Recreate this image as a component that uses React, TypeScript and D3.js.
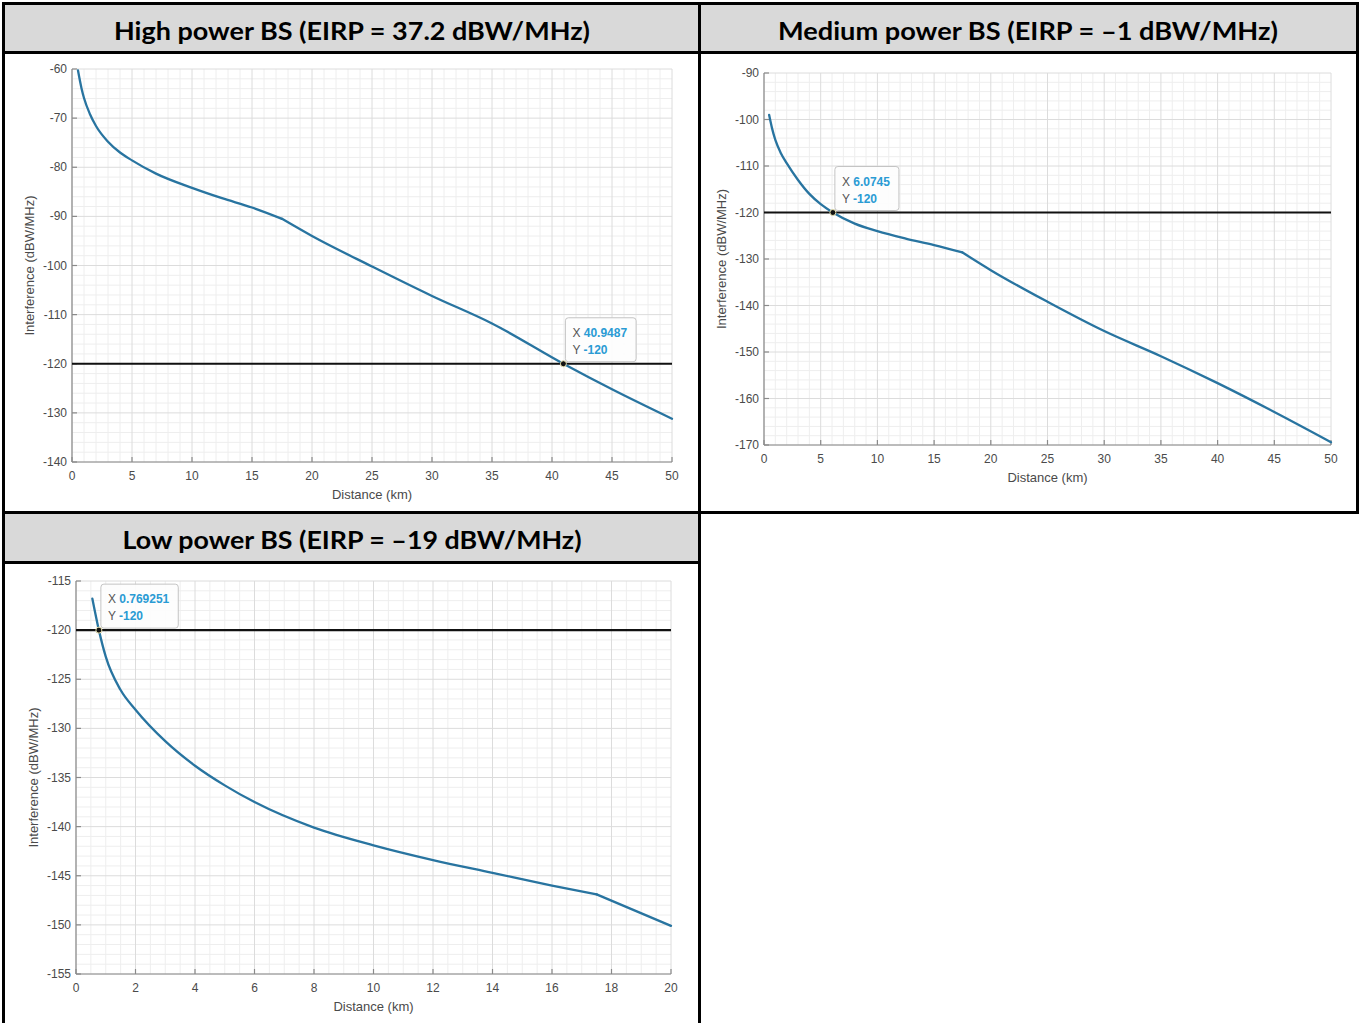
import React from 'react';
import * as d3 from 'd3';

// ---------- data ----------
const titles = [
  'High power BS (EIRP = 37.2 dBW/MHz)',
  'Medium power BS (EIRP = –1 dBW/MHz)',
  'Low power BS (EIRP = –19 dBW/MHz)',
];
const xAxisLabel = 'Distance (km)';
const yAxisLabel = 'Interference (dBW/MHz)';
const thresholdLevel = -120;
const tipXValues = [40.9487, 6.0745, 0.769251];
// distance where the propagation model changes (visible kink in every curve)
const breakDistance = 17.5;

const highDist = [0.5, 0.8, 1, 1.5, 2, 3, 4, 5, 7, 10, 12.5, 15, 17.5, 20, 25, 30, 35, 40.9487, 45, 50];
const highInterf = [-60.3, -64.0, -65.9, -69.2, -71.6, -74.8, -77.0, -78.6, -81.3, -84.2, -86.3, -88.2, -90.5, -94.0, -100.2, -106.2, -111.8, -120, -125.2, -131.2];

const medDist = [0.45, 0.7, 1, 1.5, 2, 3, 4, 5, 6.0745, 8, 10, 12.5, 15, 17.5, 20, 25, 30, 35, 40, 45, 50];
const medInterf = [-99.0, -101.8, -104.4, -107.3, -109.4, -113.0, -116.0, -118.2, -120, -122.4, -124.0, -125.6, -127.0, -128.6, -132.4, -139.2, -145.5, -150.9, -156.7, -162.9, -169.4];

const lowDist = [0.55, 0.769251, 1, 1.5, 2, 3, 4, 5, 6, 8, 10, 12, 14, 16, 17.5, 20];
const lowInterf = [-116.8, -120, -122.7, -126.1, -128.1, -131.3, -133.8, -135.8, -137.5, -140.1, -141.9, -143.4, -144.7, -146.0, -146.9, -150.1];

const highXTicks = [0, 5, 10, 15, 20, 25, 30, 35, 40, 45, 50];
const highYTicks = [-140, -130, -120, -110, -100, -90, -80, -70, -60];
const medXTicks = [0, 5, 10, 15, 20, 25, 30, 35, 40, 45, 50];
const medYTicks = [-170, -160, -150, -140, -130, -120, -110, -100, -90];
const lowXTicks = [0, 2, 4, 6, 8, 10, 12, 14, 16, 18, 20];
const lowYTicks = [-155, -150, -145, -140, -135, -130, -125, -120, -115];

// ---------- styling ----------
const TICK_FONT = '"Liberation Sans", Arial, Helvetica, sans-serif';
const LINE_COLOR = '#2874a0';
const TICK_COLOR = '#4a4a4a';
const AXIS_COLOR = '#8a8a8a';
const MAJOR_GRID = '#dcdcdc';
const MINOR_GRID = '#eeeeee';
const TIP_BLUE = '#2a9bd4';

function minorValues(ticks: number[], subs: number) {
  const out: number[] = [];
  for (let i = 0; i < ticks.length - 1; i++) {
    const a = ticks[i], b = ticks[i + 1];
    for (let k = 1; k < subs; k++) out.push(a + ((b - a) * k) / subs);
  }
  return out;
}

type PanelProps = {
  left: number; right: number; top: number; bottom: number;
  xTicks: number[]; yTicks: number[]; xSubs: number; ySubs: number;
  xs: number[]; ys: number[]; tipX: number;
};

function Panel(p: PanelProps) {
  const xDom: [number, number] = [p.xTicks[0], p.xTicks[p.xTicks.length - 1]];
  const yDom: [number, number] = [p.yTicks[0], p.yTicks[p.yTicks.length - 1]];
  const x = d3.scaleLinear().domain(xDom).range([p.left, p.right]);
  const y = d3.scaleLinear().domain(yDom).range([p.bottom, p.top]);
  const pts = p.xs.map((v, i) => [v, p.ys[i]] as [number, number]);
  const seg1 = pts.filter(d => d[0] <= breakDistance);
  const seg2 = pts.filter(d => d[0] >= breakDistance);
  const line = d3.line<[number, number]>().x(d => x(d[0])).y(d => y(d[1])).curve(d3.curveMonotoneX);
  const xMinor = minorValues(p.xTicks, p.xSubs);
  const yMinor = minorValues(p.yTicks, p.ySubs);
  const tx = x(p.tipX);
  const ty = y(thresholdLevel);
  const valStr = String(p.tipX);
  const digits = valStr.replace(/[^0-9]/g, '').length;
  const dots = valStr.length - digits;
  const boxW = 11.3 + digits * 6.67 + dots * 3.4 + 16;
  const boxH = 44;
  const bx = tx + 2;
  const by = ty - 2 - boxH;
  const midX = (p.left + p.right) / 2;
  const midY = (p.top + p.bottom) / 2;
  return (
    <g>
      <rect x={p.left} y={p.top} width={p.right - p.left} height={p.bottom - p.top} fill="#fff" />
      {xMinor.map((v, i) => (
        <line key={'xm' + i} x1={x(v)} x2={x(v)} y1={p.top} y2={p.bottom} stroke={MINOR_GRID} strokeWidth={1} />
      ))}
      {yMinor.map((v, i) => (
        <line key={'ym' + i} x1={p.left} x2={p.right} y1={y(v)} y2={y(v)} stroke={MINOR_GRID} strokeWidth={1} />
      ))}
      {p.xTicks.map((v, i) => (
        <line key={'xg' + i} x1={x(v)} x2={x(v)} y1={p.top} y2={p.bottom} stroke={MAJOR_GRID} strokeWidth={1} />
      ))}
      {p.yTicks.map((v, i) => (
        <line key={'yg' + i} x1={p.left} x2={p.right} y1={y(v)} y2={y(v)} stroke={MAJOR_GRID} strokeWidth={1} />
      ))}
      {/* axes */}
      <line x1={p.left} x2={p.left} y1={p.top} y2={p.bottom} stroke={AXIS_COLOR} strokeWidth={1.2} />
      <line x1={p.left} x2={p.right} y1={p.bottom} y2={p.bottom} stroke={AXIS_COLOR} strokeWidth={1.2} />
      {p.xTicks.map((v, i) => (
        <g key={'xt' + i}>
          <line x1={x(v)} x2={x(v)} y1={p.bottom} y2={p.bottom - 5} stroke={AXIS_COLOR} strokeWidth={1.2} />
          <text x={x(v)} y={p.bottom + 18} textAnchor="middle" fontFamily={TICK_FONT} fontSize={12} fill={TICK_COLOR}>{v}</text>
        </g>
      ))}
      {p.yTicks.map((v, i) => (
        <g key={'yt' + i}>
          <line x1={p.left} x2={p.left + 5} y1={y(v)} y2={y(v)} stroke={AXIS_COLOR} strokeWidth={1.2} />
          <text x={p.left - 5} y={y(v) + 4} textAnchor="end" fontFamily={TICK_FONT} fontSize={12} fill={TICK_COLOR}>{v}</text>
        </g>
      ))}
      <text x={midX} y={p.bottom + 37} textAnchor="middle" fontFamily={TICK_FONT} fontSize={13} fill={TICK_COLOR}>{xAxisLabel}</text>
      <text transform={`translate(${p.left - 38},${midY}) rotate(-90)`} textAnchor="middle" fontFamily={TICK_FONT} fontSize={13} fill={TICK_COLOR}>{yAxisLabel}</text>
      {/* threshold */}
      <line x1={x(xDom[0])} x2={x(xDom[1])} y1={ty} y2={ty} stroke="#111" strokeWidth={2.2} />
      {/* curve */}
      <path d={line(seg1) || ''} fill="none" stroke={LINE_COLOR} strokeWidth={2.3} strokeLinejoin="round" strokeLinecap="round" />
      <path d={line(seg2) || ''} fill="none" stroke={LINE_COLOR} strokeWidth={2.3} strokeLinejoin="round" strokeLinecap="round" />
      {/* datatip */}
      <circle cx={tx} cy={ty} r={3} fill="#111" stroke="#e8e2b0" strokeWidth={1} />
      <rect x={bx} y={by} width={boxW} height={boxH} rx={3} fill="#fdfdfd" fillOpacity={0.92} stroke="#c4c4c4" strokeWidth={1} />
      <text x={bx + 7} y={by + 19} fontFamily={TICK_FONT} fontSize={12} fill="#555">
        X <tspan fill={TIP_BLUE} fontWeight="bold">{valStr}</tspan>
      </text>
      <text x={bx + 7} y={by + 36} fontFamily={TICK_FONT} fontSize={12} fill="#555">
        Y <tspan fill={TIP_BLUE} fontWeight="bold">{thresholdLevel}</tspan>
      </text>
    </g>
  );
}

const HEADER_FONT = 'Lato, "DejaVu Sans", sans-serif';

export default function App() {
  const W = 1363, H = 1023;
  return (
    <svg width={W} height={H} style={{ position: 'absolute', left: 0, top: 0, background: '#fff' }}>
      <rect x={0} y={0} width={W} height={H} fill="#fff" />
      {/* header bands */}
      <rect x={4} y={4} width={1353} height={48} fill="#d9d9d9" />
      <rect x={4} y={513} width={695} height={49} fill="#d9d9d9" />
      <text x={352} y={40} textAnchor="middle" fontFamily={HEADER_FONT} fontWeight="bold" fontSize={25} textLength={476} lengthAdjust="spacingAndGlyphs" fill="#000">{titles[0]}</text>
      <text x={1028} y={40} textAnchor="middle" fontFamily={HEADER_FONT} fontWeight="bold" fontSize={25} textLength={500} lengthAdjust="spacingAndGlyphs" fill="#000">{titles[1]}</text>
      <text x={352} y={549} textAnchor="middle" fontFamily={HEADER_FONT} fontWeight="bold" fontSize={25} textLength={459} lengthAdjust="spacingAndGlyphs" fill="#000">{titles[2]}</text>

      <Panel left={72} right={672} top={69} bottom={462} xTicks={highXTicks} yTicks={highYTicks} xSubs={5} ySubs={5} xs={highDist} ys={highInterf} tipX={tipXValues[0]} />
      <Panel left={764} right={1331} top={73} bottom={445} xTicks={medXTicks} yTicks={medYTicks} xSubs={5} ySubs={5} xs={medDist} ys={medInterf} tipX={tipXValues[1]} />
      <Panel left={76} right={671} top={581} bottom={974} xTicks={lowXTicks} yTicks={lowYTicks} xSubs={4} ySubs={5} xs={lowDist} ys={lowInterf} tipX={tipXValues[2]} />

      {/* table borders */}
      <g stroke="#000" strokeWidth={3}>
        <line x1={2} x2={1359} y1={3.5} y2={3.5} />
        <line x1={3.5} x2={3.5} y1={2} y2={1023} />
        <line x1={1357.5} x2={1357.5} y1={2} y2={514} />
        <line x1={699.5} x2={699.5} y1={2} y2={1023} />
        <line x1={2} x2={1359} y1={52.5} y2={52.5} />
        <line x1={2} x2={1359} y1={512.5} y2={512.5} />
        <line x1={2} x2={701} y1={562.5} y2={562.5} />
      </g>
    </svg>
  );
}
